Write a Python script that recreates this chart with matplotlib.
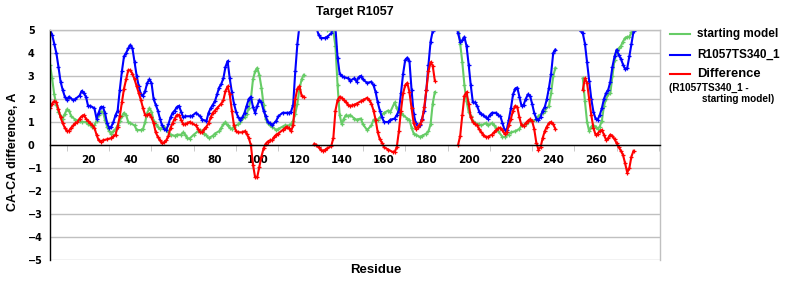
"""CA-CA difference per residue for target R1057 (starting model vs R1057TS340_1)."""

import matplotlib
matplotlib.use("Agg")
import matplotlib.pyplot as plt  # noqa: E402
import numpy as np  # noqa: E402
from matplotlib.lines import Line2D  # noqa: E402

nan = np.nan

# starting model
green_res = [2, 3, 4, 5, 6, 7, 8, 9, 10, 11, 12, 14, 16, 17, 19, 20, 22, 23, 24, 25,
             26, 27, 28, 29, 30, 31, 32, 33, 34, 35, 36, 37, 38, 39, 40, 42, 43, 45, 46, 47,
             48, 49, 50, 51, 52, 53, 54, 56, 57, 58, 59, 61, 62, 64, 65, 66, 67, 68, 70, 72,
             73, 74, 75, 76, 77, 79, 80, 82, 83, 84, 85, 86, 87, 88, 89, 91, 92, 94, 95, 96,
             97, 98, 99, 100, 101, 102, 103, 104, 105, 106, 107, 109, 110, 112, 113, 115, 116, 117, 118, 119,
             120, 121, 122, 123, 127, 130, 133, 136, 137, 138, 139, 140, 141, 142, 143, 144, 146, 147, 149, 150,
             152, 154, 155, 157, 158, 160, 162, 163, 165, 166, 167, 168, 169, 171, 172, 173, 174, 175, 177, 178,
             180, 181, 182, 183, 184, 185, 195, 196, 197, 198, 199, 200, 201, 202, 203, 205, 206, 208, 209, 211,
             212, 213, 214, 216, 217, 219, 220, 222, 224, 225, 227, 228, 230, 232, 233, 235, 236, 238, 239, 240,
             241, 242, 254, 255, 256, 257, 258, 259, 260, 261, 262, 263, 264, 265, 266, 267, 268, 269, 270, 271,
             272, 273, 274, 275, 276, 277, 278]
green_val = [3.5, 2.9, 2.2, 1.75, 1.45, 1.25, 1.15, 1.35, 1.55, 1.5, 1.25, 1.1, 1.05, 1.0, 1.0, 0.9, 0.8, 0.85, 1.05, 1.3,
             1.45, 1.45, 1.1, 0.8, 0.6, 0.5, 0.6, 0.7, 0.85, 1.05, 1.25, 1.4, 1.3, 1.0, 0.95, 0.85, 0.65, 0.65, 0.7, 1.0,
             1.4, 1.6, 1.45, 1.05, 0.9, 0.8, 0.7, 0.8, 0.7, 0.55, 0.45, 0.4, 0.45, 0.45, 0.55, 0.45, 0.3, 0.28, 0.45, 0.6,
             0.65, 0.6, 0.5, 0.42, 0.3, 0.4, 0.5, 0.6, 0.75, 0.9, 1.0, 0.85, 0.75, 0.7, 0.8, 0.9, 1.0, 1.2, 1.35, 1.6,
             2.0, 2.85, 3.2, 3.35, 3.05, 2.5, 1.75, 1.15, 0.95, 0.85, 0.8, 0.65, 0.7, 0.8, 0.85, 0.85, 0.9, 1.05, 1.35, 1.8,
             2.45, 2.85, 3.05, nan, 5.1, 5.05, 5.0, 4.95, 4.3, 2.6, 1.3, 0.9, 1.15, 1.3, 1.25, 1.3, 1.15, 1.1, 1.15, 0.9,
             0.65, 0.85, 1.1, 1.1, 1.2, 1.4, 1.5, 1.45, 1.85, 1.6, 1.4, 1.4, 1.3, 1.15, 1.1, 0.75, 0.5, 0.45, 0.35, 0.4,
             0.5, 0.6, 0.9, 1.8, 2.3, nan, 5.2, 4.4, 3.6, 2.6, 1.9, 1.45, 1.25, 1.05, 0.95, 0.9, 0.85, 0.95, 0.85, 0.95,
             0.85, 0.75, 0.6, 0.35, 0.35, 0.45, 0.55, 0.6, 0.7, 0.85, 0.9, 1.0, 1.05, 1.1, 1.25, 1.4, 1.5, 1.7, 2.25, 3.0,
             3.35, nan, 2.9, 1.9, 1.0, 0.6, 0.8, 0.85, 0.8, 0.7, 0.8, 1.05, 1.7, 2.0, 2.2, 2.25, 3.0, 3.7, 4.1, 4.2,
             4.3, 4.5, 4.65, 4.7, 4.7, 4.9, 5.2]

# R1057TS340_1
blue_res = [2, 3, 4, 5, 6, 7, 8, 9, 10, 11, 13, 14, 16, 17, 18, 19, 20, 21, 23, 24,
            25, 26, 27, 28, 29, 30, 31, 32, 33, 34, 35, 36, 37, 38, 39, 40, 41, 42, 43, 44,
            45, 46, 47, 48, 49, 50, 51, 52, 53, 54, 55, 56, 57, 58, 59, 60, 61, 62, 63, 64,
            65, 66, 68, 69, 71, 73, 74, 76, 77, 78, 79, 80, 81, 82, 83, 84, 85, 86, 87, 88,
            89, 90, 91, 92, 93, 94, 95, 96, 97, 98, 99, 100, 101, 102, 103, 104, 105, 106, 107, 109,
            110, 112, 114, 115, 116, 117, 118, 119, 120, 122, 123, 126, 128, 129, 130, 132, 133, 135, 136, 137,
            138, 139, 140, 141, 143, 144, 146, 147, 148, 149, 150, 152, 154, 155, 156, 157, 158, 159, 160, 162,
            163, 165, 166, 167, 168, 169, 170, 171, 172, 173, 174, 175, 176, 177, 178, 179, 180, 181, 182, 183,
            184, 185, 194, 195, 196, 197, 198, 199, 200, 201, 202, 203, 204, 205, 206, 207, 208, 209, 210, 211,
            213, 214, 215, 216, 217, 218, 219, 220, 221, 222, 223, 224, 225, 226, 227, 228, 229, 230, 231, 232,
            233, 234, 235, 236, 237, 238, 239, 240, 241, 242, 253, 254, 255, 256, 257, 258, 259, 260, 261, 262,
            263, 264, 265, 266, 267, 268, 269, 270, 271, 272, 273, 274, 275, 276, 277, 278, 279]
blue_val = [5.0, 4.8, 4.4, 4.0, 3.4, 2.75, 2.4, 2.1, 1.95, 2.1, 1.95, 2.0, 2.15, 2.35, 2.25, 2.1, 1.7, 1.7, 1.6, 1.15,
            1.4, 1.65, 1.65, 1.4, 0.95, 0.75, 0.8, 1.0, 1.3, 1.5, 2.4, 3.2, 3.85, 4.0, 4.2, 4.35, 4.2, 3.6, 3.0, 2.55,
            2.2, 2.15, 2.35, 2.7, 2.85, 2.7, 2.0, 1.75, 1.5, 1.15, 0.85, 0.7, 0.65, 0.9, 1.2, 1.4, 1.5, 1.65, 1.7, 1.45,
            1.2, 1.25, 1.25, 1.25, 1.4, 1.25, 1.1, 1.05, 1.4, 1.6, 1.75, 1.9, 2.2, 2.5, 2.65, 2.9, 3.4, 3.65, 2.9, 2.3,
            1.8, 1.45, 1.2, 1.1, 1.2, 1.4, 1.7, 2.0, 2.1, 1.65, 1.4, 1.7, 1.95, 1.85, 1.5, 1.25, 1.0, 0.95, 0.85, 1.05,
            1.25, 1.4, 1.4, 1.4, 1.45, 1.75, 3.2, 4.4, 5.2, 5.2, nan, 5.2, 5.1, 4.8, 4.65, 4.65, 4.7, 4.85, 5.1, 5.1,
            3.8, 3.1, 3.0, 2.95, 2.9, 2.8, 2.9, 2.75, 2.95, 3.0, 2.85, 2.7, 2.75, 2.6, 2.3, 1.85, 1.5, 1.2, 1.0, 1.0,
            1.1, 1.15, 1.3, 1.5, 2.25, 3.1, 3.7, 3.8, 3.65, 2.4, 1.35, 0.95, 0.8, 0.85, 1.15, 1.5, 2.4, 3.5, 4.5, 4.95,
            5.3, nan, 5.3, 4.85, 4.5, 4.55, 4.7, 4.3, 3.5, 2.6, 1.85, 1.85, 1.7, 1.45, 1.35, 1.3, 1.2, 1.15, 1.3, 1.4,
            1.4, 1.3, 1.25, 0.95, 0.65, 0.65, 1.1, 1.6, 2.2, 2.45, 2.5, 2.1, 1.7, 1.75, 2.0, 2.2, 2.15, 1.8, 1.4, 1.15,
            1.1, 1.2, 1.5, 1.65, 2.0, 2.5, 3.1, 4.0, 4.15, nan, 4.95, 4.85, 4.4, 3.6, 2.8, 2.0, 1.45, 1.15, 1.1, 1.3,
            1.6, 2.0, 2.25, 2.4, 2.75, 3.4, 3.85, 4.15, 3.9, 3.75, 3.5, 3.3, 3.35, 3.85, 4.4, 4.95, 5.3]

# Difference (R1057TS340_1 - starting model)
red_res = [2, 3, 4, 5, 6, 7, 8, 9, 10, 11, 12, 13, 14, 15, 16, 17, 18, 19, 20, 21,
           22, 23, 24, 25, 26, 27, 29, 31, 32, 33, 34, 35, 36, 37, 38, 39, 40, 41, 42, 43,
           44, 45, 46, 47, 48, 49, 50, 51, 52, 53, 54, 55, 56, 57, 58, 59, 60, 61, 62, 63,
           64, 65, 66, 67, 68, 69, 71, 72, 73, 74, 75, 76, 77, 78, 79, 80, 81, 83, 84, 85,
           86, 87, 88, 89, 90, 91, 93, 94, 95, 96, 97, 98, 99, 100, 101, 102, 103, 104, 105, 106,
           107, 108, 109, 110, 112, 113, 114, 115, 116, 117, 118, 119, 120, 121, 122, 123, 127, 128, 129, 130,
           131, 132, 133, 135, 136, 137, 138, 139, 140, 141, 142, 143, 144, 145, 146, 147, 149, 150, 152, 153,
           154, 155, 156, 157, 158, 159, 160, 162, 164, 165, 166, 167, 168, 169, 170, 171, 172, 173, 174, 175,
           176, 177, 178, 179, 180, 181, 182, 183, 184, 185, 195, 196, 197, 198, 199, 200, 201, 202, 203, 204,
           205, 206, 207, 208, 209, 211, 212, 213, 214, 215, 216, 217, 218, 219, 220, 221, 222, 223, 224, 225,
           226, 227, 228, 229, 230, 231, 232, 233, 234, 235, 236, 237, 238, 239, 240, 241, 242, 254, 255, 256,
           257, 258, 259, 260, 261, 262, 263, 264, 265, 266, 267, 268, 269, 270, 271, 272, 273, 274, 275, 276,
           277, 278]
red_val = [1.6, 1.8, 1.9, 1.85, 1.55, 1.2, 0.95, 0.75, 0.6, 0.62, 0.75, 0.85, 0.95, 1.0, 1.15, 1.25, 1.3, 1.15, 1.05, 0.95,
           0.85, 0.75, 0.45, 0.2, 0.15, 0.2, 0.25, 0.3, 0.38, 0.45, 0.8, 1.25, 1.85, 2.45, 2.85, 3.25, 3.25, 3.1, 2.85, 2.55,
           2.25, 1.95, 1.6, 1.3, 1.3, 1.35, 1.2, 0.95, 0.55, 0.35, 0.2, 0.08, 0.12, 0.2, 0.4, 0.75, 0.95, 1.15, 1.3, 1.3,
           1.1, 0.9, 0.9, 0.95, 1.0, 0.95, 0.85, 0.7, 0.55, 0.55, 0.7, 0.8, 0.95, 1.2, 1.4, 1.5, 1.6, 1.8, 1.95, 2.35,
           2.55, 2.2, 1.5, 0.85, 0.6, 0.55, 0.55, 0.6, 0.5, 0.3, 0.0, -0.85, -1.4, -1.4, -0.95, -0.5, -0.15, 0.05, 0.15, 0.2,
           0.2, 0.35, 0.45, 0.5, 0.65, 0.72, 0.8, 0.72, 0.6, 0.85, 2.0, 2.45, 2.55, 2.15, 2.1, nan, 0.05, 0.0, -0.1, -0.2,
           -0.25, -0.22, -0.15, -0.05, 0.3, 1.5, 1.95, 2.1, 2.05, 1.95, 1.85, 1.75, 1.7, 1.72, 1.75, 1.8, 1.9, 1.95, 2.05, 1.95,
           1.8, 1.5, 1.1, 0.55, 0.25, 0.1, -0.1, -0.2, -0.3, -0.3, -0.1, 0.6, 1.5, 2.25, 2.6, 2.7, 2.3, 1.6, 0.95, 0.7,
           0.8, 0.9, 1.1, 1.65, 2.4, 3.2, 3.6, 3.45, 2.8, nan, 0.0, 0.4, 1.3, 2.15, 2.3, 1.8, 1.2, 1.0, 0.92, 0.85,
           0.68, 0.55, 0.45, 0.35, 0.35, 0.45, 0.55, 0.65, 0.72, 0.75, 0.65, 0.48, 0.55, 0.85, 1.15, 1.5, 1.7, 1.65, 1.2, 0.85,
           0.82, 0.95, 1.05, 1.12, 1.05, 0.7, 0.1, -0.2, -0.1, 0.3, 0.6, 0.8, 0.95, 1.0, 0.9, 0.7, nan, 2.4, 2.9, 2.7,
           2.0, 1.3, 0.75, 0.45, 0.5, 0.6, 0.65, 0.45, 0.22, 0.3, 0.45, 0.4, 0.25, 0.07, -0.1, -0.25, -0.43, -0.8, -1.2, -1.0,
           -0.5, -0.25]

x_ticks = list(range(20, 261, 20))
y_ticks = list(range(-5, 6))

GREEN = "#66cc66"
BLUE = "#0000ff"
RED = "#ff0000"
GRID = "#c0c0c0"

fig = plt.figure(figsize=(8, 3), dpi=100)
ax = fig.add_axes([50 / 800, 40 / 300, 610 / 800, 230 / 300])

style = dict(lw=1.5, marker="+", ms=2.5, mew=0.9)
ax.plot(green_res, green_val, color=GREEN, **style)
ax.plot(blue_res, blue_val, color=BLUE, **style)
ax.plot(red_res, red_val, color=RED, **style)

ax.set_xlim(2, 290.5)
ax.set_ylim(-5, 5)
ax.set_yticks(y_ticks)
ax.set_xticks(x_ticks)
ax.set_xticks(list(range(10, 291, 20)), minor=True)
ax.grid(True, axis="y", color=GRID, lw=1)
ax.set_axisbelow(True)

ax.spines["bottom"].set_position(("data", 0))
ax.spines["bottom"].set_color("black")
ax.spines["left"].set_color("black")
ax.spines["top"].set_color(GRID)
ax.spines["right"].set_color(GRID)
for s in ax.spines.values():
    s.set_linewidth(1)

# y labels sit left-aligned at x~28 px, like the Excel original
ax.tick_params(axis="y", length=0, pad=16, labelsize=7)
ax.tick_params(axis="x", which="major", length=0, pad=7, labelsize=7.5)
ax.tick_params(axis="x", which="minor", length=4, color=GRID, direction="out")
for lab in ax.get_yticklabels():
    lab.set_horizontalalignment("left")
for lab in ax.get_xticklabels() + ax.get_yticklabels():
    lab.set_fontweight("bold")
    lab.set_family("DejaVu Sans")

fig.text(355 / 800, 1 - 12 / 300, "Target R1057", ha="center", va="center",
         family="Liberation Sans", fontweight="bold", fontsize=9)
fig.text(13 / 800, 1 - 152 / 300, "CA-CA difference, A", rotation=90, ha="center", va="center",
         family="Liberation Sans", fontweight="bold", fontsize=9)
fig.text(376 / 800, 1 - 270 / 300, "Residue", ha="center", va="center",
         family="Liberation Sans", fontweight="bold", fontsize=9.5)

# legend drawn by hand (Excel-like layout to the right of the plot)
legend_items = [("starting model", GREEN, 34, 8.5), ("R1057TS340_1", BLUE, 55, 8.5), ("Difference", RED, 74, 9.4)]
for text, color, ypx, fs in legend_items:
    yf = 1 - ypx / 300
    fig.add_artist(Line2D([670 / 800, 690 / 800], [yf, yf], color=color, lw=1.5,
                          transform=fig.transFigure))
    fig.text(697 / 800, yf, text, ha="left", va="center", family="Liberation Sans",
             fontweight="bold", fontsize=fs)
fig.text(669 / 800, 1 - 88 / 300, "(R1057TS340_1 -", ha="left", va="center",
         family="Liberation Sans", fontweight="bold", fontsize=7.2)
fig.text(702 / 800, 1 - 99 / 300, "starting model)", ha="left", va="center",
         family="Liberation Sans", fontweight="bold", fontsize=7.2)

fig.savefig("out.png", dpi=100)
plt.close(fig)
